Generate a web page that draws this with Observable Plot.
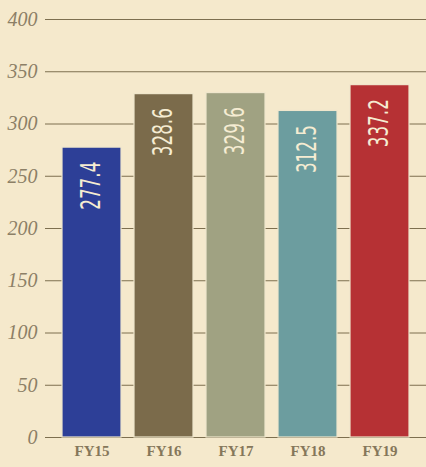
<!DOCTYPE html>
<html>
<head>
<meta charset="utf-8">
<script src="https://cdn.jsdelivr.net/npm/d3@7"></script>
<script src="https://cdn.jsdelivr.net/npm/@observablehq/plot@0.6"></script>
<style>
  html, body { margin: 0; padding: 0; background: #f5e9cc; }
  #chart svg { display: block; }
  .vlabel text { font-family: "DejaVu Sans Condensed", "DejaVu Sans", sans-serif; font-stretch: condensed; }
</style>
</head>
<body>
<div id="chart"></div>
<script>
const years = ["FY15", "FY16", "FY17", "FY18", "FY19"];
const values = [277.4, 328.6, 329.6, 312.5, 337.2];
const colors = ["#2d3f97", "#7b6b4b", "#a0a282", "#6c9d9f", "#b63134"];
const yTicks = [0, 50, 100, 150, 200, 250, 300, 350, 400];

const data = years.map((y, i) => ({year: y, value: values[i], label: values[i].toFixed(1)}));

const chart = Plot.plot({
  width: 426,
  height: 467,
  marginLeft: 45,
  marginRight: 0,
  marginTop: 19,
  marginBottom: 30,
  style: {background: "#f5e9cc", overflow: "visible"},
  x: {domain: years, padding: 0.18, paddingOuter: 0.21, label: null},
  y: {domain: [0, 400], label: null},
  color: {domain: years, range: colors},
  marks: [
    Plot.ruleY(yTicks, {stroke: "#7d6f4f", strokeWidth: 1}),
    Plot.axisY({ticks: yTicks, tickSize: 0, tickPadding: 8, fontSize: 20, fill: "#8c7f66",
      fontFamily: "Liberation Serif", fontStyle: "italic", label: null}),
    Plot.axisX({tickSize: 0, tickPadding: 8, fontSize: 15, fill: "#85775a",
      fontFamily: "Liberation Serif", fontWeight: "bold", label: null}),
    Plot.barY(data, {x: "year", y: "value", fill: "year", stroke: "#efe6cc", strokeWidth: 1.2}),
    Plot.text(data, {x: "year", y: "value", text: "label", rotate: -90, textAnchor: "end",
      dy: 14, fill: "#f5ecd2", fontSize: 26, className: "vlabel"})
  ]
});
// compress the value labels along their reading direction (condensed look)
chart.querySelectorAll(".vlabel text").forEach(t => {
  const tr = t.getAttribute("transform") || "";
  t.setAttribute("transform", tr + " scale(0.72,1)");
});
document.getElementById("chart").appendChild(chart);
</script>
</body>
</html>
